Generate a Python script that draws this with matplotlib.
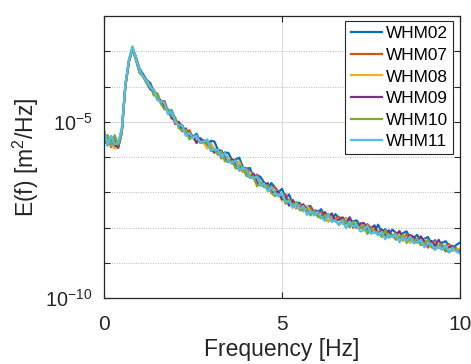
import matplotlib
matplotlib.use("Agg")
import matplotlib.pyplot as plt
import numpy as np
from matplotlib.ticker import FixedLocator, NullFormatter, NullLocator, LogFormatterSciNotation

plt.rcParams["font.family"] = ["Liberation Sans", "DejaVu Sans"]
plt.rcParams["mathtext.fontset"] = "custom"
plt.rcParams["mathtext.rm"] = "Liberation Sans"
plt.rcParams["mathtext.it"] = "Liberation Sans:italic"
plt.rcParams["mathtext.bf"] = "Liberation Sans:bold"

# frequency grid [Hz], read at 0.1 Hz steps
freq = [0.0, 0.1, 0.2, 0.3, 0.4, 0.5, 0.6, 0.7, 0.8, 0.9,
        1.0, 1.1, 1.2, 1.3, 1.4, 1.5, 1.6, 1.7, 1.8, 1.9,
        2.0, 2.1, 2.2, 2.3, 2.4, 2.5, 2.6, 2.7, 2.8, 2.9,
        3.0, 3.1, 3.2, 3.3, 3.4, 3.5, 3.6, 3.7, 3.8, 3.9,
        4.0, 4.1, 4.2, 4.3, 4.4, 4.5, 4.6, 4.7, 4.8, 4.9,
        5.0, 5.1, 5.2, 5.3, 5.4, 5.5, 5.6, 5.7, 5.8, 5.9,
        6.0, 6.1, 6.2, 6.3, 6.4, 6.5, 6.6, 6.7, 6.8, 6.9,
        7.0, 7.1, 7.2, 7.3, 7.4, 7.5, 7.6, 7.7, 7.8, 7.9,
        8.0, 8.1, 8.2, 8.3, 8.4, 8.5, 8.6, 8.7, 8.8, 8.9,
        9.0, 9.1, 9.2, 9.3, 9.4, 9.5, 9.6, 9.7, 9.8, 9.9, 10.0]

# log10 of E(f) [m^2/Hz]
log_whm02 = [-5.30, -5.58, -5.42, -5.70, -5.62, -5.22, -3.97, -3.27, -2.91, -3.17,
             -3.50, -3.66, -3.82, -3.90, -4.16, -4.20, -4.46, -4.42, -4.71, -4.67,
             -4.93, -5.12, -5.10, -5.34, -5.30, -5.44, -5.34, -5.55, -5.52, -5.69,
             -5.54, -5.56, -5.79, -5.92, -5.87, -5.89, -6.10, -6.07, -6.02, -6.29,
             -6.34, -6.31, -6.59, -6.51, -6.57, -6.73, -6.88, -6.74, -6.86, -7.00,
             -6.90, -7.17, -7.06, -7.34, -7.30, -7.30, -7.50, -7.41, -7.39, -7.57,
             -7.57, -7.48, -7.71, -7.63, -7.79, -7.62, -7.74, -7.84, -7.73, -7.96,
             -7.82, -7.80, -7.96, -8.04, -7.92, -8.01, -8.12, -7.92, -8.12, -8.05,
             -8.20, -8.06, -8.15, -8.30, -8.16, -8.11, -8.31, -8.29, -8.21, -8.41,
             -8.32, -8.27, -8.46, -8.36, -8.57, -8.43, -8.39, -8.54, -8.61, -8.49, -8.43]
log_whm07 = [-5.55, -5.38, -5.72, -5.48, -5.70, -5.28, -3.99, -3.30, -2.92, -3.23,
             -3.60, -3.70, -3.90, -4.05, -4.09, -4.37, -4.41, -4.43, -4.76, -4.77,
             -5.07, -5.00, -5.15, -5.35, -5.24, -5.46, -5.56, -5.46, -5.55, -5.72,
             -5.61, -5.79, -5.80, -6.04, -5.93, -6.04, -6.19, -6.07, -6.29, -6.42,
             -6.31, -6.45, -6.62, -6.50, -6.76, -6.76, -6.93, -6.83, -6.86, -7.04,
             -7.18, -7.05, -7.30, -7.26, -7.46, -7.33, -7.42, -7.53, -7.42, -7.65,
             -7.57, -7.56, -7.72, -7.83, -7.68, -7.76, -7.69, -7.89, -7.88, -7.79,
             -8.01, -7.89, -7.95, -8.08, -7.90, -8.12, -8.05, -8.14, -8.05, -8.29,
             -8.13, -8.26, -8.16, -8.25, -8.37, -8.18, -8.37, -8.31, -8.43, -8.30,
             -8.40, -8.57, -8.42, -8.40, -8.56, -8.62, -8.51, -8.47, -8.66, -8.59, -8.66]
log_whm08 = [-5.62, -5.50, -5.64, -5.76, -5.72, -5.30, -3.96, -3.26, -2.88, -3.24,
             -3.54, -3.74, -3.84, -3.98, -4.26, -4.19, -4.48, -4.61, -4.63, -4.91,
             -4.93, -5.09, -5.28, -5.18, -5.42, -5.42, -5.59, -5.47, -5.59, -5.76,
             -5.62, -5.77, -5.92, -5.86, -6.13, -6.03, -6.12, -6.28, -6.14, -6.38,
             -6.50, -6.43, -6.59, -6.78, -6.69, -6.86, -6.77, -7.01, -6.98, -6.98,
             -7.24, -7.14, -7.28, -7.22, -7.43, -7.39, -7.55, -7.38, -7.57, -7.53,
             -7.70, -7.65, -7.61, -7.84, -7.70, -7.81, -7.75, -7.89, -7.74, -7.99,
             -7.91, -8.02, -7.89, -7.99, -8.17, -8.00, -8.12, -8.08, -8.24, -8.09,
             -8.26, -8.22, -8.35, -8.16, -8.35, -8.28, -8.44, -8.29, -8.37, -8.49,
             -8.34, -8.50, -8.56, -8.43, -8.56, -8.51, -8.69, -8.52, -8.66, -8.63, -8.60]
log_whm09 = [-5.48, -5.66, -5.52, -5.60, -5.74, -5.30, -3.97, -3.29, -2.91, -3.21,
             -3.60, -3.66, -3.90, -4.08, -4.14, -4.34, -4.40, -4.62, -4.67, -4.89,
             -4.97, -5.02, -5.26, -5.20, -5.40, -5.40, -5.60, -5.47, -5.58, -5.53,
             -5.76, -5.88, -5.81, -5.82, -6.03, -6.15, -6.06, -6.19, -6.38, -6.27,
             -6.40, -6.59, -6.47, -6.71, -6.81, -6.77, -6.74, -7.00, -7.00, -6.98,
             -7.20, -7.13, -7.38, -7.22, -7.36, -7.46, -7.34, -7.51, -7.61, -7.51,
             -7.54, -7.71, -7.56, -7.70, -7.60, -7.83, -7.77, -7.71, -7.88, -7.71,
             -7.91, -7.99, -7.89, -7.87, -8.05, -8.02, -7.94, -8.20, -8.06, -8.19,
             -8.08, -8.26, -8.21, -8.10, -8.28, -8.37, -8.21, -8.27, -8.39, -8.25,
             -8.40, -8.51, -8.38, -8.52, -8.35, -8.53, -8.66, -8.55, -8.52, -8.68, -8.66]
log_whm10 = [-5.58, -5.40, -5.64, -5.38, -5.66, -5.32, -4.02, -3.31, -2.94, -3.26,
             -3.62, -3.72, -3.92, -3.97, -4.25, -4.21, -4.49, -4.65, -4.66, -4.83,
             -4.87, -5.18, -5.25, -5.23, -5.50, -5.42, -5.42, -5.60, -5.59, -5.54,
             -5.83, -5.79, -5.94, -5.84, -6.11, -6.14, -6.11, -6.33, -6.25, -6.28,
             -6.54, -6.56, -6.55, -6.83, -6.73, -6.85, -6.80, -7.02, -7.11, -7.05,
             -7.06, -7.33, -7.22, -7.38, -7.28, -7.51, -7.50, -7.47, -7.66, -7.51,
             -7.67, -7.74, -7.66, -7.61, -7.82, -7.80, -7.93, -7.77, -7.84, -7.99,
             -7.83, -8.01, -8.01, -7.94, -8.18, -8.02, -8.15, -8.12, -8.27, -8.09,
             -8.29, -8.20, -8.34, -8.29, -8.21, -8.44, -8.29, -8.39, -8.31, -8.50,
             -8.46, -8.35, -8.56, -8.62, -8.50, -8.48, -8.63, -8.71, -8.56, -8.67, -8.64]
log_whm11 = [-5.22, -5.68, -5.40, -5.64, -5.60, -5.18, -3.94, -3.24, -2.86, -3.19,
             -3.56, -3.70, -3.86, -4.04, -4.08, -4.39, -4.42, -4.47, -4.79, -4.69,
             -5.01, -5.09, -5.12, -5.40, -5.32, -5.46, -5.39, -5.59, -5.55, -5.50,
             -5.80, -5.79, -5.80, -6.00, -5.89, -6.13, -6.16, -6.10, -6.38, -6.30,
             -6.36, -6.59, -6.59, -6.56, -6.81, -6.76, -6.97, -6.85, -7.00, -7.12,
             -7.02, -7.26, -7.26, -7.44, -7.33, -7.47, -7.39, -7.64, -7.53, -7.65,
             -7.56, -7.69, -7.81, -7.64, -7.84, -7.79, -7.91, -7.81, -8.02, -7.83,
             -7.97, -7.92, -8.11, -8.07, -7.95, -8.18, -8.12, -8.22, -8.12, -8.33,
             -8.20, -8.28, -8.19, -8.42, -8.27, -8.38, -8.26, -8.45, -8.41, -8.35,
             -8.56, -8.46, -8.46, -8.63, -8.54, -8.63, -8.49, -8.70, -8.60, -8.67, -8.74]

names = ["WHM02", "WHM07", "WHM08", "WHM09", "WHM10", "WHM11"]
series = [log_whm02, log_whm07, log_whm08, log_whm09, log_whm10, log_whm11]
# MATLAB default line colours
colors = ["#0072BD", "#D95319", "#EDB120", "#7E2F8E", "#77AC30", "#4DBEEE"]

fig = plt.figure(figsize=(4.71, 3.64), dpi=100)
ax = fig.add_axes([0.2208, 0.1813, 0.7558, 0.7747])

for name, logE, c in zip(names, series, colors):
    ax.plot(freq, 10.0 ** np.asarray(logE), color=c, lw=1.6, label=name)

ax.set_yscale("log")
ax.set_xlim(0, 10)
ax.set_ylim(1e-10, 1e-2)
ax.xaxis.set_major_locator(FixedLocator([0, 5, 10]))
ax.xaxis.set_minor_locator(NullLocator())
ax.yaxis.set_major_locator(FixedLocator([1e-10, 1e-5]))
ax.yaxis.set_major_formatter(LogFormatterSciNotation())
ax.yaxis.set_minor_locator(FixedLocator([1e-9, 1e-8, 1e-7, 1e-6, 1e-4, 1e-3]))
ax.yaxis.set_minor_formatter(NullFormatter())

ax.grid(True, which="major", color="#dcdcdc", ls="-", lw=0.8)
ax.grid(True, which="minor", axis="y", color="#b8b8b8", ls=(0, (1, 1.5)), lw=0.7)
ax.set_axisbelow(True)

for s in ax.spines.values():
    s.set_color("#262626")
    s.set_linewidth(0.9)
ax.tick_params(which="both", direction="in", top=True, right=True, length=4,
               width=0.8, color="#262626", labelcolor="#262626")
ax.tick_params(axis="x", pad=12, labelsize=15)
ax.tick_params(axis="y", pad=8.5, labelsize=14.3)

ax.set_xlabel("Frequency [Hz]", fontsize=16.5, color="#262626", labelpad=3)
ax.set_ylabel("E(f) [m$^2$/Hz]", fontsize=16.5, color="#262626", labelpad=3)

leg = ax.legend(loc="upper right", bbox_to_anchor=(0.981, 0.982), borderaxespad=0,
                fontsize=12.4, fancybox=False, framealpha=1, edgecolor="#262626",
                handlelength=1.85, handletextpad=0.2, labelspacing=0.38,
                borderpad=0.3)
leg.get_frame().set_linewidth(0.8)

fig.savefig("out.png", dpi=100)
